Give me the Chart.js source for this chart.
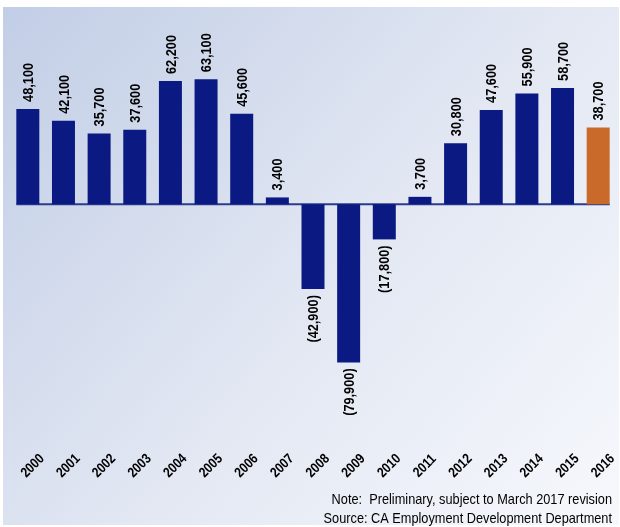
<!DOCTYPE html>
<html>
<head>
<meta charset="utf-8">
<script src="https://cdn.jsdelivr.net/npm/chart.js@4"></script>
<style>
  html, body { margin: 0; padding: 0; background: #fff; }
  #wrap { width: 620px; height: 527px; }
</style>
</head>
<body>
<div id="wrap"><canvas id="grafico" width="620" height="527"></canvas></div>
<script>
const anos = ['2000', '2001', '2002', '2003', '2004', '2005', '2006', '2007', '2008',
    '2009', '2010', '2011', '2012', '2013', '2014', '2015', '2016'];
const empregos = [48100, 42100, 35700, 37600, 62200, 63100, 45600, 3400, -42900,
    -79900, -17800, 3700, 30800, 47600, 55900, 58700, 38700];
const notas = ['Note:  Preliminary, subject to March 2017 revision',
    'Source: CA Employment Development Department'];

const FONTE = '"Liberation Sans", Arial, sans-serif';
const ESTREITO = 0.85; // a fonte original é "narrow"
const cores = empregos.map((v, i) => i === empregos.length - 1 ? '#c96a2b' : '#0a1a82');

function rotulo(v) {
    const s = Math.abs(v).toLocaleString('en-US');
    return v < 0 ? '(' + s + ')' : s;
}

const fundo = {
    id: 'fundo',
    beforeDraw(chart) {
        const ctx = chart.ctx;
        const g = ctx.createLinearGradient(3, 7, 619, 525);
        g.addColorStop(0, '#c2cee6');
        g.addColorStop(0.55, '#e3e8f3');
        g.addColorStop(1, '#f6f8fc');
        ctx.save();
        ctx.fillStyle = '#ffffff';
        ctx.fillRect(0, 0, chart.width, chart.height);
        ctx.fillStyle = g;
        ctx.fillRect(3, 7, 616, 518);
        ctx.restore();
    },
    beforeDatasetsDraw(chart) {
        const ctx = chart.ctx;
        const meta = chart.getDatasetMeta(0);
        const y0 = chart.scales.y.getPixelForValue(0);
        const primeiro = meta.data[0];
        const ultimo = meta.data[meta.data.length - 1];
        ctx.save();
        ctx.strokeStyle = '#2c3b8c';
        ctx.lineWidth = 2;
        ctx.beginPath();
        ctx.moveTo(primeiro.x - primeiro.width / 2, y0);
        ctx.lineTo(ultimo.x + ultimo.width / 2, y0);
        ctx.stroke();
        ctx.restore();
    },
    afterDatasetsDraw(chart) {
        const ctx = chart.ctx;
        const meta = chart.getDatasetMeta(0);
        const eixoX = chart.scales.x;
        ctx.save();
        ctx.fillStyle = '#000';

        // valores em cima/baixo das barras
        ctx.font = 'bold 15px ' + FONTE;
        ctx.textBaseline = 'middle';
        meta.data.forEach((bar, i) => {
            const v = empregos[i];
            ctx.save();
            ctx.translate(bar.x + 1, bar.y);
            ctx.rotate(-Math.PI / 2);
            ctx.scale(ESTREITO, 1);
            if (v >= 0) {
                ctx.textAlign = 'left';
                ctx.fillText(rotulo(v), 7 / ESTREITO, 0);
            } else {
                ctx.textAlign = 'right';
                ctx.fillText(rotulo(v), -6 / ESTREITO, 0);
            }
            ctx.restore();
        });

        // anos no eixo x
        ctx.font = 'bold 14px ' + FONTE;
        ctx.textAlign = 'center';
        anos.forEach((ano, i) => {
            ctx.save();
            ctx.translate(eixoX.getPixelForTick(i) + 5, 466);
            ctx.rotate(-Math.PI / 4);
            ctx.scale(ESTREITO, 1);
            ctx.fillText(ano, 0, 0);
            ctx.restore();
        });

        // notas de rodapé
        ctx.font = '15px ' + FONTE;
        ctx.textAlign = 'right';
        ctx.textBaseline = 'alphabetic';
        notas.forEach((t, i) => {
            ctx.save();
            ctx.translate(612, 504 + i * 19);
            ctx.scale(ESTREITO, 1);
            ctx.fillText(t, 0, 0);
            ctx.restore();
        });
        ctx.restore();
    }
};

new Chart(document.getElementById('grafico'), {
    type: 'bar',
    data: {
        labels: anos,
        datasets: [{
            data: empregos,
            backgroundColor: cores,
            borderWidth: 0,
            categoryPercentage: 1,
            barPercentage: 0.645
        }]
    },
    options: {
        responsive: false,
        animation: false,
        devicePixelRatio: 1,
        layout: { padding: { top: 20, left: 10, right: 4, bottom: 47 } },
        plugins: {
            legend: { display: false },
            tooltip: { enabled: false }
        },
        scales: {
            x: {
                grid: { display: false },
                border: { display: false },
                ticks: { display: false },
                afterFit(s) { s.height = 60; }
            },
            y: {
                display: false,
                min: -109000,
                max: 93000
            }
        }
    },
    plugins: [fundo]
});
</script>
</body>
</html>
